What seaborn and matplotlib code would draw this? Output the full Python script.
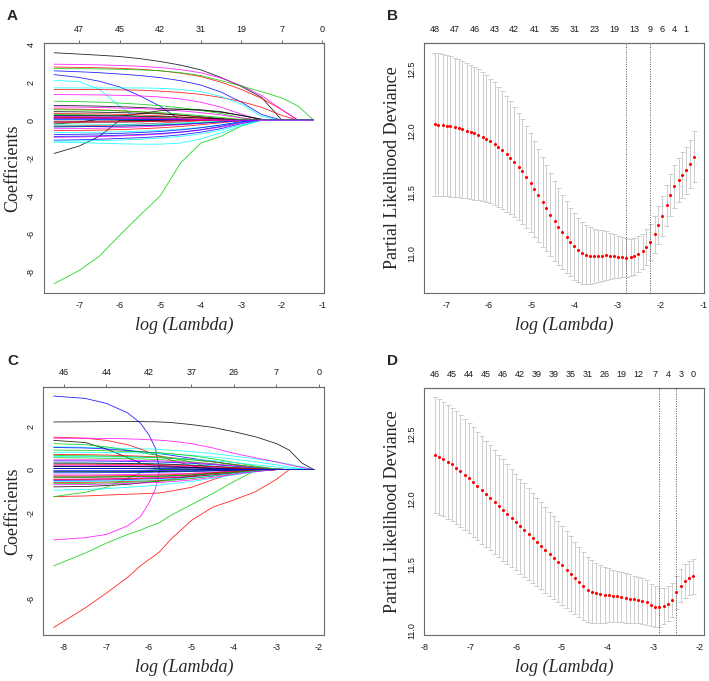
import numpy as np
import pandas as pd
import seaborn as sns
import matplotlib.pyplot as plt

# R default matplot colours: black, red, green3, blue, cyan, magenta
R_COLS = ['#000000', '#FF0000', '#00CD00', '#0000FF', '#00FFFF', '#FF00FF']
BOX = '#6b6b6b'

# ---------------- A: coefficient paths (cohort 1) ----------------
LOGLAM_A = [-7.62, -7.0, -6.5, -6.0, -5.5, -5.0, -4.5, -4.0, -3.5, -3.0, -2.5, -2.0, -1.6, -1.22]
COEF_A = [
    [3.55, 3.48, 3.42, 3.35, 3.24, 3.09, 2.90, 2.65, 2.25, 1.78, 1.20, 0, 0, 0],
    [2.80, 2.78, 2.76, 2.73, 2.68, 2.60, 2.48, 2.30, 2.00, 1.62, 1.15, 0.55, 0, 0],
    [-8.60, -7.91, -7.15, -6.05, -5.00, -3.98, -2.25, -1.20, -0.85, -0.30, 0, 0, 0, 0],
    [2.60, 2.55, 2.50, 2.43, 2.35, 2.24, 2.08, 1.85, 1.48, 0.95, 0.30, 0, 0, 0],
    [2.10, 2.03, 1.62, 0.73, 0, 0, 0, 0, 0, 0, 0, 0, 0, 0],
    [2.95, 2.93, 2.91, 2.88, 2.84, 2.77, 2.66, 2.50, 2.22, 1.82, 1.30, 0.55, 0, 0],
    [-1.75, -1.36, -0.84, 0, 0, 0, 0, 0, 0, 0, 0, 0, 0, 0],
    [1.62, 1.62, 1.61, 1.60, 1.58, 1.53, 1.46, 1.36, 1.20, 0.98, 0.68, 0.25, 0, 0],
    [2.72, 2.71, 2.70, 2.68, 2.65, 2.60, 2.50, 2.35, 2.08, 1.80, 1.50, 1.17, 0.75, 0],
    [2.40, 2.25, 2.05, 1.75, 1.28, 0.73, 0, 0, 0, 0, 0, 0, 0, 0],
    [-1.15, -1.18, -1.21, -1.24, -1.26, -1.26, -1.20, -0.98, -0.66, -0.30, 0, 0, 0, 0],
    [1.35, 1.34, 1.33, 1.31, 1.28, 1.22, 1.12, 0.95, 0.68, 0.32, 0, 0, 0, 0],
    [0.78, 0.76, 0.74, 0.71, 0.67, 0.62, 0.58, 0.52, 0.42, 0.25, 0.05, 0, 0, 0],
    [0.60, 0.58, 0.55, 0.50, 0.44, 0.36, 0.26, 0.15, 0.05, 0, 0, 0, 0, 0],
    [1.00, 0.98, 0.95, 0.90, 0.84, 0.76, 0.66, 0.52, 0.35, 0.12, 0, 0, 0, 0],
    [-1.05, -1.03, -1.00, -0.96, -0.92, -0.86, -0.77, -0.63, -0.44, -0.18, 0, 0, 0, 0],
    [1.70, 1.70, 1.70, 1.70, 1.70, 1.68, 1.62, 1.50, 1.25, 0.85, 0.20, 0, 0, 0],
    [-0.90, -0.88, -0.86, -0.83, -0.79, -0.73, -0.64, -0.52, -0.36, -0.15, 0, 0, 0, 0],
    [0.45, 0.44, 0.42, 0.40, 0.37, 0.33, 0.27, 0.19, 0.09, 0.02, 0, 0, 0, 0],
    [-0.55, -0.54, -0.52, -0.49, -0.45, -0.40, -0.33, -0.24, -0.13, -0.03, 0, 0, 0, 0],
    [0.30, 0.29, 0.27, 0.24, 0.20, 0.15, 0.09, 0.03, 0, 0, 0, 0, 0, 0],
    [-0.85, -0.84, -0.82, -0.79, -0.75, -0.70, -0.62, -0.50, -0.32, -0.10, 0, 0, 0, 0],
    [-0.65, -0.64, -0.63, -0.61, -0.58, -0.54, -0.47, -0.38, -0.25, -0.08, 0, 0, 0, 0],
    [0.70, 0.69, 0.67, 0.64, 0.61, 0.56, 0.49, 0.40, 0.28, 0.12, 0, 0, 0, 0],
    [-0.20, -0.10, 0.05, 0.20, 0.35, 0.50, 0.56, 0.55, 0.45, 0.25, 0.05, 0, 0, 0],
    [-0.30, -0.29, -0.27, -0.24, -0.20, -0.15, -0.09, -0.03, 0, 0, 0, 0, 0, 0],
    [0.20, 0.20, 0.19, 0.18, 0.16, 0.13, 0.09, 0.04, 0, 0, 0, 0, 0, 0],
    [0.15, 0.15, 0.14, 0.13, 0.11, 0.08, 0.04, 0, 0, 0, 0, 0, 0, 0],
    [0.25, 0.24, 0.22, 0.19, 0.15, 0.10, 0.05, 0, 0, 0, 0, 0, 0, 0],
    [-0.45, -0.44, -0.42, -0.39, -0.35, -0.30, -0.24, -0.16, -0.07, 0, 0, 0, 0, 0],
    [0.10, 0.10, 0.09, 0.08, 0.06, 0.04, 0.02, 0, 0, 0, 0, 0, 0, 0],
    [0.35, 0.34, 0.33, 0.31, 0.28, 0.23, 0.17, 0.10, 0.03, 0, 0, 0, 0, 0],
    [-0.15, -0.14, -0.13, -0.11, -0.09, -0.06, -0.03, 0, 0, 0, 0, 0, 0, 0],
    [-0.75, -0.74, -0.72, -0.69, -0.65, -0.59, -0.51, -0.40, -0.25, -0.08, 0, 0, 0, 0],
    [0.05, 0.05, 0.04, 0.03, 0.02, 0.01, 0, 0, 0, 0, 0, 0, 0, 0],
    [0.10, 0.10, 0.09, 0.09, 0.08, 0.06, 0.04, 0.02, 0, 0, 0, 0, 0, 0],
    [-0.05, -0.05, -0.04, -0.03, -0.02, -0.01, 0, 0, 0, 0, 0, 0, 0, 0],
    [0.15, 0.15, 0.14, 0.13, 0.12, 0.10, 0.07, 0.04, 0.01, 0, 0, 0, 0, 0],
    [-0.35, -0.34, -0.33, -0.31, -0.28, -0.24, -0.19, -0.13, -0.06, 0, 0, 0, 0, 0],
    [0.05, 0.05, 0.05, 0.04, 0.04, 0.03, 0.02, 0.01, 0, 0, 0, 0, 0, 0],
    [-0.25, -0.25, -0.24, -0.23, -0.21, -0.18, -0.14, -0.09, -0.04, 0, 0, 0, 0, 0],
    [-0.10, -0.10, -0.09, -0.09, -0.08, -0.06, -0.04, -0.02, 0, 0, 0, 0, 0, 0],
    [0.25, 0.25, 0.24, 0.23, 0.21, 0.19, 0.16, 0.12, 0.07, 0.02, 0, 0, 0, 0],
    [-0.10, -0.10, -0.09, -0.08, -0.07, -0.05, -0.03, -0.01, 0, 0, 0, 0, 0, 0],
    [0.55, 0.54, 0.52, 0.49, 0.45, 0.40, 0.33, 0.24, 0.14, 0.04, 0, 0, 0, 0],
    [-0.35, -0.34, -0.33, -0.31, -0.29, -0.26, -0.22, -0.16, -0.09, -0.02, 0, 0, 0, 0],
    [-1.10, -1.09, -1.07, -1.04, -1.00, -0.94, -0.85, -0.72, -0.52, -0.24, 0, 0, 0, 0],
    [0.20, 0.19, 0.18, 0.17, 0.15, 0.12, 0.08, 0.04, 0.01, 0, 0, 0, 0, 0],
]
TOP_A_AT = [-7, -6, -5, -4, -3, -2, -1]
TOP_A_LAB = ['47', '45', '42', '31', '19', '7', '0']

# ---------------- B: cross-validation curve (cohort 1) ----------------
LOGLAM_B = [-7.27, -7.18, -7.08, -6.99, -6.90, -6.80, -6.71, -6.62, -6.52, -6.43,
            -6.34, -6.25, -6.15, -6.06, -5.97, -5.87, -5.78, -5.69, -5.59, -5.50,
            -5.41, -5.31, -5.22, -5.13, -5.03, -4.94, -4.85, -4.75, -4.66, -4.57,
            -4.47, -4.38, -4.29, -4.19, -4.10, -4.01, -3.92, -3.82, -3.73, -3.64,
            -3.54, -3.45, -3.36, -3.26, -3.17, -3.08, -2.98, -2.89, -2.80, -2.70,
            -2.61, -2.52, -2.42, -2.33, -2.24, -2.14, -2.05, -1.96, -1.86, -1.77,
            -1.68, -1.58, -1.49, -1.40, -1.31, -1.21]
CVM_B = [12.054, 12.050, 12.046, 12.041, 12.035, 12.028, 12.020, 12.012, 12.002, 11.992,
         11.980, 11.967, 11.952, 11.936, 11.917, 11.895, 11.870, 11.843, 11.813, 11.781,
         11.747, 11.710, 11.670, 11.627, 11.580, 11.530, 11.478, 11.425, 11.372, 11.320,
         11.270, 11.222, 11.178, 11.136, 11.097, 11.062, 11.032, 11.008, 10.993, 10.986,
         10.984, 10.985, 10.987, 10.988, 10.986, 10.982, 10.977, 10.973, 10.970, 10.972,
         10.980, 10.996, 11.020, 11.054, 11.098, 11.160, 11.235, 11.310, 11.395, 11.475,
         11.548, 11.600, 11.640, 11.680, 11.730, 11.790]
CVSD_B = [0.580, 0.578, 0.575, 0.572, 0.569, 0.565, 0.560, 0.556, 0.551, 0.546,
          0.540, 0.533, 0.525, 0.516, 0.507, 0.498, 0.489, 0.479, 0.470, 0.460,
          0.449, 0.438, 0.427, 0.416, 0.404, 0.391, 0.378, 0.365, 0.352, 0.339,
          0.326, 0.314, 0.302, 0.291, 0.280, 0.270, 0.260, 0.250, 0.240, 0.230,
          0.221, 0.212, 0.204, 0.196, 0.188, 0.180, 0.172, 0.164, 0.157, 0.152,
          0.148, 0.146, 0.145, 0.146, 0.148, 0.152, 0.156, 0.161, 0.166, 0.171,
          0.176, 0.181, 0.186, 0.192, 0.198, 0.205]
LAMBDA_LINES_B = [-2.80, -2.24]
TOP_B_IDX = [0, 5, 10, 15, 20, 25, 30, 35, 40, 45, 50, 54, 57, 60, 63]
TOP_B_LAB = ['48', '47', '46', '43', '42', '41', '35', '31', '23', '19', '13', '9', '6', '4', '1']

# ---------------- C: coefficient paths (cohort 2) ----------------
LOGLAM_C = [-8.24, -7.5, -7.0, -6.5, -6.2, -6.0, -5.85, -5.75, -5.5, -5.0, -4.5, -4.0, -3.5, -3.0, -2.7, -2.4, -2.12]
COEF_C = [
    [2.20, 2.21, 2.22, 2.22, 2.22, 2.21, 2.21, 2.20, 2.18, 2.08, 1.95, 1.75, 1.52, 1.20, 0.90, 0.30, 0],
    [-7.30, -6.40, -5.71, -4.98, -4.45, -4.16, -3.95, -3.80, -3.25, -2.35, -1.74, -1.40, -1.03, -0.45, 0, 0, 0],
    [-4.45, -3.86, -3.40, -3.00, -2.80, -2.63, -2.53, -2.45, -2.13, -1.62, -1.11, -0.55, -0.05, 0, 0, 0, 0],
    [3.40, 3.29, 3.06, 2.62, 2.15, 1.60, 1.00, 0, 0, 0, 0, 0, 0, 0, 0, 0, 0],
    [1.05, 1.03, 1.00, 0.98, 0.96, 0.95, 0.94, 0.93, 0.90, 0.83, 0.74, 0.62, 0.50, 0.36, 0.25, 0.12, 0],
    [-3.25, -3.15, -3.00, -2.60, -2.17, -1.55, -0.90, -0.05, 0, 0, 0, 0, 0, 0, 0, 0, 0],
    [1.35, 1.25, 0.95, 0.55, 0.30, 0.22, 0.20, 0.19, 0.16, 0.10, 0.04, 0, 0, 0, 0, 0, 0],
    [1.50, 1.45, 1.35, 1.15, 0.95, 0.80, 0.70, 0.62, 0.45, 0.18, 0, 0, 0, 0, 0, 0, 0],
    [1.20, 1.15, 1.05, 0.90, 0.80, 0.72, 0.68, 0.64, 0.55, 0.35, 0.05, 0, 0, 0, 0, 0, 0],
    [1.02, 1.00, 0.95, 0.88, 0.83, 0.79, 0.76, 0.74, 0.67, 0.52, 0.38, 0.22, 0.08, 0, 0, 0, 0],
    [0.80, 0.80, 0.79, 0.78, 0.77, 0.76, 0.75, 0.74, 0.72, 0.66, 0.58, 0.48, 0.36, 0.22, 0.12, 0.04, 0],
    [1.45, 1.45, 1.44, 1.42, 1.40, 1.38, 1.37, 1.36, 1.32, 1.20, 1.00, 0.75, 0.55, 0.35, 0.22, 0.10, 0],
    [-0.80, -0.78, -0.74, -0.68, -0.62, -0.58, -0.55, -0.52, -0.45, -0.30, -0.15, -0.05, 0, 0, 0, 0, 0],
    [-1.25, -1.22, -1.18, -1.14, -1.12, -1.10, -1.09, -1.08, -1.00, -0.82, -0.47, -0.15, 0, 0, 0, 0, 0],
    [-1.25, -1.05, -0.82, -0.40, -0.15, -0.05, 0, 0, 0, 0, 0, 0, 0, 0, 0, 0, 0],
    [0.15, 0.15, 0.14, 0.14, 0.13, 0.13, 0.12, 0.12, 0.11, 0.09, 0.06, 0.03, 0.01, 0, 0, 0, 0],
    [-0.95, -0.92, -0.88, -0.82, -0.78, -0.75, -0.73, -0.71, -0.66, -0.55, -0.40, -0.25, -0.10, 0, 0, 0, 0],
    [-0.45, -0.44, -0.42, -0.40, -0.38, -0.37, -0.36, -0.35, -0.33, -0.27, -0.18, -0.10, -0.03, 0, 0, 0, 0],
    [0.05, 0.05, 0.05, 0.05, 0.04, 0.04, 0.04, 0.04, 0.03, 0.02, 0.01, 0, 0, 0, 0, 0, 0],
    [0.70, 0.69, 0.67, 0.64, 0.62, 0.60, 0.59, 0.58, 0.55, 0.47, 0.36, 0.24, 0.12, 0.03, 0, 0, 0],
    [0.55, 0.54, 0.52, 0.50, 0.49, 0.48, 0.47, 0.46, 0.43, 0.36, 0.27, 0.17, 0.08, 0.02, 0, 0, 0],
    [-0.15, -0.15, -0.14, -0.14, -0.13, -0.13, -0.12, -0.12, -0.11, -0.09, -0.06, -0.03, -0.01, 0, 0, 0, 0],
    [0.30, 0.30, 0.29, 0.28, 0.28, 0.27, 0.27, 0.26, 0.25, 0.22, 0.17, 0.11, 0.05, 0.01, 0, 0, 0],
    [-0.25, -0.25, -0.24, -0.23, -0.22, -0.22, -0.21, -0.21, -0.20, -0.17, -0.12, -0.07, -0.02, 0, 0, 0, 0],
    [-0.35, -0.35, -0.34, -0.33, -0.32, -0.31, -0.31, -0.30, -0.29, -0.25, -0.19, -0.12, -0.05, 0, 0, 0, 0],
    [-0.60, -0.59, -0.57, -0.55, -0.53, -0.52, -0.51, -0.50, -0.47, -0.40, -0.30, -0.19, -0.08, 0, 0, 0, 0],
    [-0.65, -0.64, -0.62, -0.59, -0.57, -0.56, -0.55, -0.54, -0.50, -0.41, -0.29, -0.16, -0.05, 0, 0, 0, 0],
    [0.40, 0.40, 0.39, 0.38, 0.37, 0.36, 0.36, 0.35, 0.33, 0.29, 0.23, 0.16, 0.08, 0.02, 0, 0, 0],
    [-0.10, -0.10, -0.10, -0.09, -0.09, -0.09, -0.08, -0.08, -0.08, -0.06, -0.04, -0.02, 0, 0, 0, 0, 0],
    [0.20, 0.20, 0.19, 0.19, 0.18, 0.18, 0.18, 0.17, 0.16, 0.14, 0.10, 0.06, 0.02, 0, 0, 0, 0],
    [0.30, 0.30, 0.29, 0.28, 0.27, 0.27, 0.26, 0.26, 0.24, 0.20, 0.15, 0.09, 0.04, 0, 0, 0, 0],
    [-0.30, -0.30, -0.29, -0.28, -0.27, -0.26, -0.26, -0.25, -0.24, -0.20, -0.15, -0.09, -0.03, 0, 0, 0, 0],
    [0.90, 0.89, 0.87, 0.84, 0.82, 0.80, 0.79, 0.78, 0.74, 0.64, 0.50, 0.33, 0.16, 0.03, 0, 0, 0],
    [-0.50, -0.49, -0.48, -0.46, -0.44, -0.43, -0.42, -0.41, -0.39, -0.33, -0.25, -0.16, -0.07, 0, 0, 0, 0],
    [0.60, 0.60, 0.59, 0.58, 0.57, 0.56, 0.56, 0.55, 0.53, 0.48, 0.41, 0.32, 0.22, 0.12, 0.06, 0.02, 0],
    [0.45, 0.45, 0.44, 0.43, 0.42, 0.41, 0.41, 0.40, 0.38, 0.33, 0.26, 0.18, 0.10, 0.03, 0, 0, 0],
    [0.15, 0.15, 0.15, 0.14, 0.14, 0.14, 0.13, 0.13, 0.12, 0.10, 0.07, 0.04, 0.01, 0, 0, 0, 0],
    [-0.45, -0.45, -0.44, -0.42, -0.41, -0.40, -0.39, -0.39, -0.37, -0.32, -0.24, -0.15, -0.06, 0, 0, 0, 0],
    [-0.35, -0.35, -0.34, -0.33, -0.32, -0.32, -0.31, -0.31, -0.29, -0.25, -0.19, -0.12, -0.05, 0, 0, 0, 0],
    [0.05, 0.05, 0.05, 0.05, 0.05, 0.04, 0.04, 0.04, 0.04, 0.03, 0.02, 0.01, 0, 0, 0, 0, 0],
    [-0.55, -0.55, -0.53, -0.51, -0.49, -0.48, -0.47, -0.47, -0.44, -0.38, -0.29, -0.18, -0.07, 0, 0, 0, 0],
    [-0.70, -0.69, -0.67, -0.64, -0.62, -0.61, -0.60, -0.59, -0.56, -0.48, -0.36, -0.22, -0.09, 0, 0, 0, 0],
    [-0.10, -0.10, -0.10, -0.10, -0.09, -0.09, -0.09, -0.09, -0.08, -0.07, -0.05, -0.03, -0.01, 0, 0, 0, 0],
    [0.25, 0.25, 0.24, 0.24, 0.23, 0.23, 0.22, 0.22, 0.21, 0.18, 0.14, 0.09, 0.04, 0, 0, 0, 0],
    [0.65, 0.64, 0.62, 0.60, 0.58, 0.57, 0.56, 0.55, 0.52, 0.45, 0.35, 0.23, 0.11, 0.02, 0, 0, 0],
    [-0.05, -0.05, -0.05, -0.05, -0.05, -0.04, -0.04, -0.04, -0.04, -0.03, -0.02, -0.01, 0, 0, 0, 0, 0],
]
TOP_C_AT = [-8, -7, -6, -5, -4, -3, -2]
TOP_C_LAB = ['46', '44', '42', '37', '26', '7', '0']

# ---------------- D: cross-validation curve (cohort 2) ----------------
LOGLAM_D = [-7.77, -7.68, -7.59, -7.49, -7.40, -7.31, -7.22, -7.12, -7.03, -6.94,
            -6.85, -6.75, -6.66, -6.57, -6.47, -6.38, -6.29, -6.20, -6.10, -6.01,
            -5.92, -5.83, -5.73, -5.64, -5.55, -5.46, -5.37, -5.27, -5.18, -5.09,
            -5.00, -4.90, -4.81, -4.72, -4.63, -4.53, -4.44, -4.35, -4.26, -4.16,
            -4.07, -3.98, -3.89, -3.79, -3.70, -3.61, -3.52, -3.42, -3.33, -3.24,
            -3.15, -3.05, -2.96, -2.87, -2.78, -2.68, -2.59, -2.50, -2.40, -2.31,
            -2.22, -2.13]
CVM_D = [12.340, 12.325, 12.308, 12.288, 12.266, 12.242, 12.216, 12.189, 12.160, 12.131,
         12.101, 12.071, 12.041, 12.011, 11.980, 11.949, 11.918, 11.887, 11.856, 11.825,
         11.794, 11.764, 11.734, 11.704, 11.674, 11.644, 11.614, 11.584, 11.554, 11.524,
         11.494, 11.463, 11.432, 11.400, 11.368, 11.337, 11.310, 11.294, 11.281, 11.274,
         11.269, 11.266, 11.262, 11.257, 11.253, 11.247, 11.240, 11.234, 11.230, 11.224,
         11.211, 11.191, 11.178, 11.174, 11.184, 11.202, 11.230, 11.288, 11.340, 11.376,
         11.398, 11.410]
CVSD_D = [0.445, 0.442, 0.439, 0.436, 0.433, 0.430, 0.427, 0.424, 0.421, 0.418,
          0.414, 0.410, 0.406, 0.402, 0.397, 0.392, 0.387, 0.381, 0.375, 0.369,
          0.363, 0.357, 0.351, 0.345, 0.339, 0.333, 0.327, 0.321, 0.315, 0.308,
          0.300, 0.292, 0.284, 0.275, 0.266, 0.257, 0.248, 0.239, 0.230, 0.221,
          0.213, 0.206, 0.201, 0.197, 0.193, 0.190, 0.186, 0.182, 0.178, 0.174,
          0.169, 0.163, 0.156, 0.147, 0.140, 0.135, 0.131, 0.129, 0.129, 0.131,
          0.133, 0.135]
LAMBDA_LINES_D = [-2.87, -2.50]
TOP_D_IDX = [0, 4, 8, 12, 16, 20, 24, 28, 32, 36, 40, 44, 48, 52, 55, 58, 61]
TOP_D_LAB = ['46', '45', '44', '45', '46', '42', '39', '39', '35', '31', '26', '19', '12', '7', '4', '3', '0']


def r_axes(ax, xlim, ylim, xticks, yticks, yfmt, top_at, top_lab, top_tick):
    ax.set_xlim(xlim)
    ax.set_ylim(ylim)
    ax.set_xticks(xticks, labels=[str(t) for t in xticks])
    ax.set_yticks(yticks, labels=[yfmt.format(t) for t in yticks])
    ax.tick_params(direction='out', length=3, width=0.7, color=BOX,
                   labelsize=6.5, labelcolor='#1a1a1a', pad=2.5)
    ax.tick_params(axis='y', labelrotation=90)
    for lab in ax.get_yticklabels():
        lab.set_va('center')
    for sp in ax.spines.values():
        sp.set_visible(True)
        sp.set_color(BOX)
        sp.set_linewidth(0.8)
    sec = ax.secondary_xaxis('top')
    sec.set_xticks(top_at, labels=top_lab)
    sec.tick_params(direction='out', length=2 if top_tick else 0, width=0.7,
                    color=BOX, labelsize=6.5, labelcolor='#1a1a1a',
                    pad=5 if top_tick else 6.5)
    sec.spines['top'].set_color(BOX)
    sec.spines['top'].set_linewidth(0.8)
    ax.set_xlabel('log (Lambda)', fontsize=13, fontstyle='italic',
                  family='Liberation Serif', labelpad=5)


def path_panel(ax, loglam, coefs):
    rows = []
    for k, row in enumerate(coefs):
        for x, y in zip(loglam, row):
            rows.append((x, y, 'v%02d' % k))
    df = pd.DataFrame(rows, columns=['loglam', 'coef', 'var'])
    pal = {'v%02d' % k: R_COLS[k % 6] for k in range(len(coefs))}
    sns.lineplot(data=df, x='loglam', y='coef', hue='var', palette=pal,
                 legend=False, estimator=None, lw=0.6, alpha=0.85, ax=ax)
    ax.set_ylabel('Coefficients', fontsize=13, family='Liberation Serif', labelpad=4)


def cv_panel(ax, loglam, cvm, cvsd, vlines):
    x = np.array(loglam)
    m = np.array(cvm)
    sd = np.array(cvsd)
    up, lo = m + sd, m - sd
    barw = 0.01 * (x.max() - x.min())
    ax.vlines(x, lo, up, color='#cdcdcd', lw=0.7)
    ax.hlines(up, x - barw, x + barw, color='#cdcdcd', lw=0.7)
    ax.hlines(lo, x - barw, x + barw, color='#cdcdcd', lw=0.7)
    sns.scatterplot(x=x, y=m, color='#FF0000', s=5, linewidth=0, ax=ax, zorder=3)
    for v in vlines:
        ax.axvline(v, color='#555555', lw=0.7, ls=(0, (1, 1.5)))
    ax.set_ylabel('Partial Likelihood Deviance', fontsize=13,
                  family='Liberation Serif', labelpad=5)


sns.set_theme(style='white')
plt.rcParams['font.family'] = ['Liberation Sans', 'DejaVu Sans']
plt.rcParams['axes.unicode_minus'] = False

fig = plt.figure(figsize=(7.09, 6.81), dpi=100)
axA = fig.add_axes([0.0614, 0.5698, 0.3956, 0.3664])
axB = fig.add_axes([0.5984, 0.5698, 0.3949, 0.3676])
axC = fig.add_axes([0.0611, 0.0675, 0.3963, 0.3646])
axD = fig.add_axes([0.5984, 0.0671, 0.3949, 0.3636])

path_panel(axA, LOGLAM_A, COEF_A)
r_axes(axA, (-7.88, -0.96), (-9.09, 4.04), [-7, -6, -5, -4, -3, -2, -1],
       [-8, -6, -4, -2, 0, 2, 4], '{:d}', TOP_A_AT, TOP_A_LAB, True)

cv_panel(axB, LOGLAM_B, CVM_B, CVSD_B, LAMBDA_LINES_B)
r_axes(axB, (-7.51, -0.98), (10.683, 12.716), [-7, -6, -5, -4, -3, -2, -1],
       [11.0, 11.5, 12.0, 12.5], '{:.1f}',
       [LOGLAM_B[i] for i in TOP_B_IDX], TOP_B_LAB, False)

path_panel(axC, LOGLAM_C, COEF_C)
r_axes(axC, (-8.485, -1.875), (-7.65, 3.83), [-8, -7, -6, -5, -4, -3, -2],
       [-6, -4, -2, 0, 2], '{:d}', TOP_C_AT, TOP_C_LAB, True)

cv_panel(axD, LOGLAM_D, CVM_D, CVSD_D, LAMBDA_LINES_D)
r_axes(axD, (-8.01, -1.89), (10.96, 12.853), [-8, -7, -6, -5, -4, -3, -2],
       [11.0, 11.5, 12.0, 12.5], '{:.1f}',
       [LOGLAM_D[i] for i in TOP_D_IDX], TOP_D_LAB, False)

for lab, px, py in [('A', 7, 20), ('B', 387, 20), ('C', 7, 365), ('D', 387, 365)]:
    fig.text(px / 709, 1 - py / 681, lab, fontsize=11, fontweight='bold',
             family='Liberation Sans', ha='left', va='baseline')

fig.savefig('out.png', dpi=100)
